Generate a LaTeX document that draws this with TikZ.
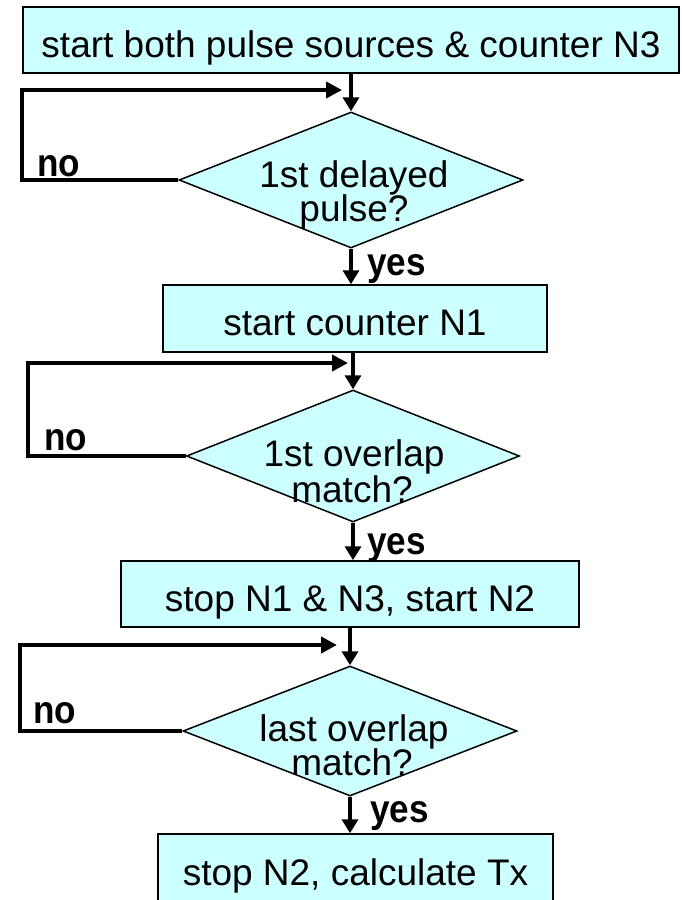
\documentclass[tikz,border=0pt]{standalone}
\usepackage{fontspec}
\setmainfont{Liberation Sans}
\newfontfamily\lblfont{Liberation Sans}[FakeStretch=0.9]
\usetikzlibrary{shapes.geometric,arrows.meta}
\definecolor{fillc}{RGB}{204,255,255}
\begin{document}
\begin{tikzpicture}[x=1pt,y=-1pt,
  box/.style={draw=black, line width=1.5pt, fill=fillc, inner sep=0pt,
    font=\fontsize{37}{36}\selectfont, text height=34pt, text depth=0pt},
  dia/.style={diamond, draw=black, line width=1.5pt, fill=fillc, inner sep=0pt},
  dtext/.style={anchor=base, font=\fontsize{37}{36}\selectfont, inner sep=0pt},
  lbl/.style={anchor=base west, font=\lblfont\bfseries\fontsize{39}{40}\selectfont, inner sep=0pt},
  flow/.style={line width=4pt, -{Triangle[length=14pt,width=16pt]}},
  back/.style={line width=4.5pt, -{Triangle[length=16pt,width=16pt]}},
]
\useasboundingbox (0,0) rectangle (681,900);
\clip (0,0) rectangle (681,900);

% boxes
\node[box, minimum width=656, minimum height=66] (b1) at (351,40) {start both pulse sources \& counter N3};
\node[box, minimum width=384, minimum height=67] (b2) at (355,318.5) {start counter N1};
\node[box, minimum width=458, minimum height=66] (b3) at (350,594) {stop N1 \& N3, start N2};
\node[box, minimum width=395, minimum height=80, text height=22pt] (b4) at (355.5,874) {stop N2, calculate Tx};

% diamonds
\node[dia, minimum width=344, minimum height=136] (d1) at (351,180) {};
\node[dia, minimum width=333, minimum height=132] (d2) at (353,456) {};
\node[dia, minimum width=334, minimum height=130] (d3) at (350,731) {};

% diamond texts
\node[dtext] (t1a) at (354,187) {1st delayed};
\node[dtext] (t1b) at (354,221) {pulse?};
\node[dtext] (t2a) at (354,466) {1st overlap};
\node[dtext] (t2b) at (352,502) {match?};
\node[dtext] (t3a) at (354,741) {last overlap};
\node[dtext] (t3b) at (352,775) {match?};

% forward arrows
\draw[flow] (d1.north |- b1.south) -- (d1.north);
\draw[flow] (d1.south) -- (d1.south |- b2.north);
\draw[flow] (d2.north |- b2.south) -- (d2.north);
\draw[flow] (d2.south) -- (d2.south |- b3.north);
\draw[flow] (d3.north |- b3.south) -- (d3.north);
\draw[flow] (d3.south) -- (d3.south |- b4.north);

% feedback loops
\coordinate (c1) at (22,90);  \coordinate (e1) at (342,90);
\coordinate (c2) at (28,363); \coordinate (e2) at (348,363);
\coordinate (c3) at (20,645); \coordinate (e3) at (337,645);
\draw[back] (d1.west) -| (c1) -- (e1);
\draw[back] (d2.west) -| (c2) -- (e2);
\draw[back] (d3.west) -| (c3) -- (e3);

% labels
\node[lbl] (n1) at (37,176) {no};
\node[lbl] (n2) at (44,450) {no};
\node[lbl] (n3) at (33,723) {no};
\node[lbl] (y1) at (367,275) {yes};
\node[lbl] (y2) at (367,554) {yes};
\node[lbl] (y3) at (370,822) {yes};
\end{tikzpicture}
\end{document}
